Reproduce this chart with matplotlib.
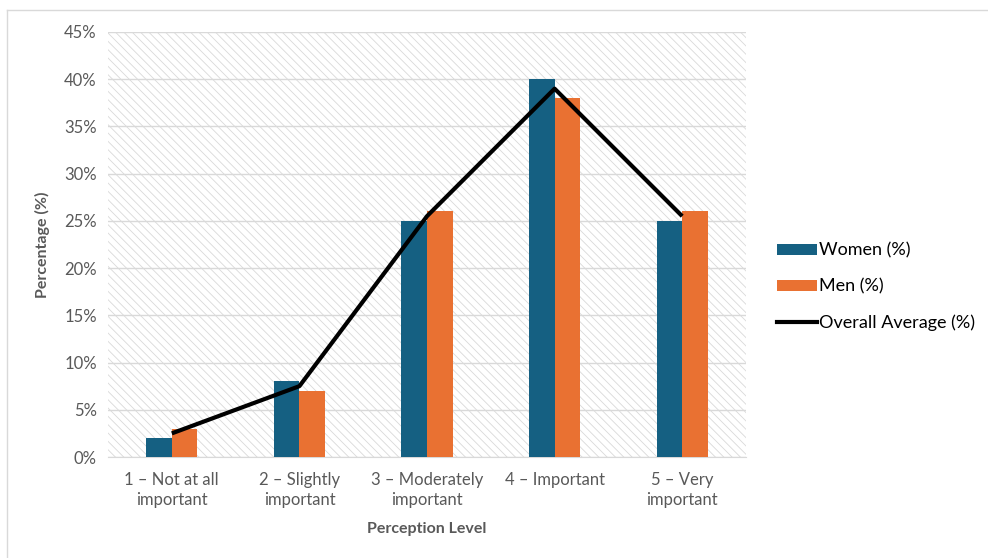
import numpy as np
import matplotlib
matplotlib.use('Agg')
import matplotlib.pyplot as plt
from matplotlib.patches import Patch
from matplotlib.lines import Line2D

# Chart data
categories = ['1 – Not at all\nimportant', '2 – Slightly\nimportant', '3 – Moderately\nimportant',
              '4 – Important', '5 – Very\nimportant']
women = [2, 8, 25, 40, 25]
men = [3, 7, 26, 38, 26]
overall = [2.5, 7.5, 25.5, 39, 25.5]

plt.rcParams['font.family'] = ['Lato', 'DejaVu Sans']
plt.rcParams['hatch.linewidth'] = 0.6

text_grey = '#595959'
women_color = '#156082'
men_color = '#E97132'

fig = plt.figure(figsize=(9.88, 5.58), dpi=100)
ax = fig.add_axes([108 / 988, 101 / 558, 638 / 988, 425 / 558])

# Hatched plot background
ax.patch.set_facecolor('white')
ax.patch.set_hatch('\\\\\\\\')
ax.patch.set_edgecolor('#d9d9d9')
ax.patch.set_linewidth(0)

x = np.arange(len(categories))
w = 0.2
ax.bar(x - w / 2, women, w, color=women_color, zorder=3)
ax.bar(x + w / 2, men, w, color=men_color, zorder=3)
ax.plot(x, overall, color='black', lw=3, zorder=4, solid_capstyle='butt')

ax.set_xlim(-0.5, len(categories) - 0.5)
ax.set_ylim(0, 45)
ax.set_yticks(np.arange(0, 46, 5))
ax.set_yticklabels([f'{v}%' for v in range(0, 46, 5)])
ax.set_xticks(x)
ax.set_xticklabels(categories, linespacing=1.3)
ax.grid(axis='y', color='#d9d9d9', lw=1, zorder=1)
ax.set_axisbelow(True)

for s in ['top', 'right', 'left']:
    ax.spines[s].set_visible(False)
ax.spines['bottom'].set_color('#d9d9d9')
ax.spines['bottom'].set_zorder(2)
ax.tick_params(axis='both', length=0, labelsize=12, labelcolor=text_grey, pad=8)
ax.tick_params(axis='x', pad=11)

ax.set_ylabel('Percentage (%)', fontsize=11.5, fontweight='bold', color=text_grey, labelpad=10)
ax.set_xlabel('Perception Level', fontsize=11.5, fontweight='bold', color=text_grey, labelpad=10)

handles = [Patch(facecolor=women_color, label='Women (%)'),
           Patch(facecolor=men_color, label='Men (%)'),
           Line2D([0], [0], color='black', lw=3, label='Overall Average (%)')]
fig.legend(handles=handles, loc='center left', bbox_to_anchor=(761 / 988, 1 - 287 / 558),
           frameon=False, fontsize=13, handlelength=2.2, handleheight=0.55,
           handletextpad=0.1, labelspacing=1.1, labelcolor='black')

# Outer chart border (top and left edges visible)
fig.add_artist(Line2D([7 / 988, 1], [1 - 10 / 558, 1 - 10 / 558], color='#d9d9d9', lw=1))
fig.add_artist(Line2D([7 / 988, 7 / 988], [0, 1 - 10 / 558], color='#d9d9d9', lw=1))

fig.savefig('out.png', dpi=100)
